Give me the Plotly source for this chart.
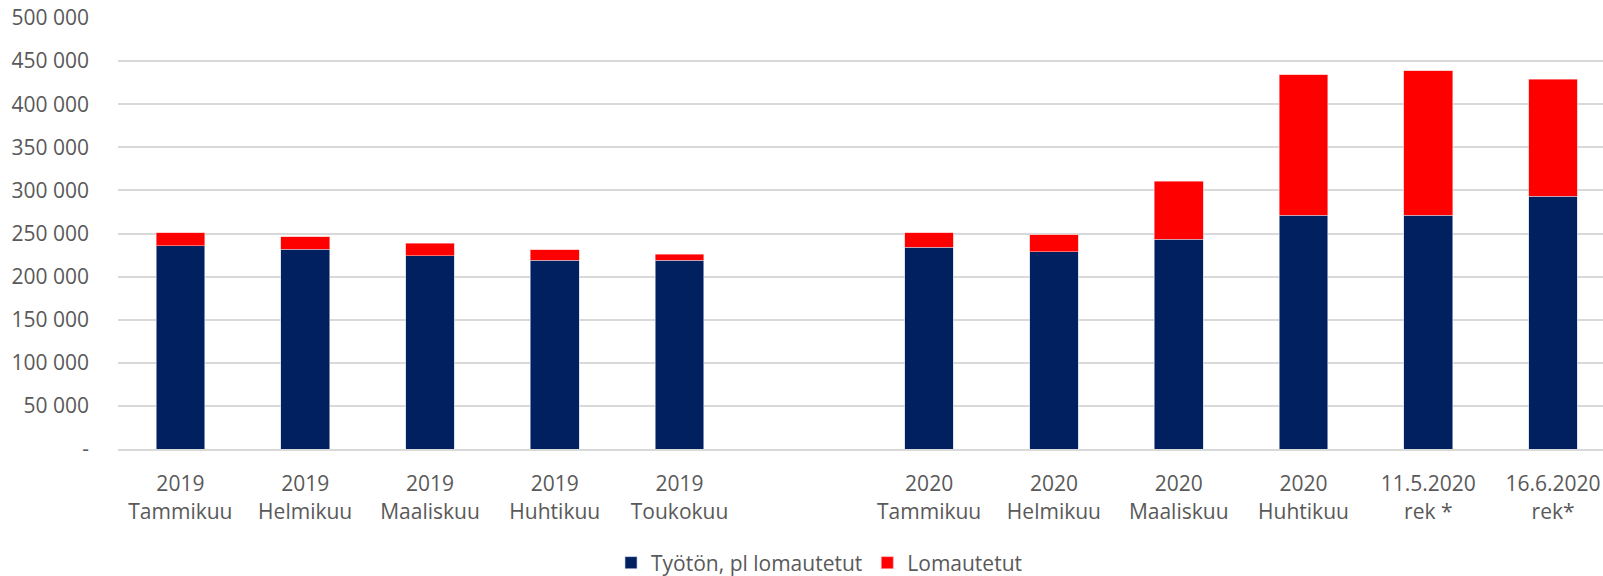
import plotly.graph_objects as go

categories = ["2019<br>Tammikuu", "2019<br>Helmikuu", "2019<br>Maaliskuu", "2019<br>Huhtikuu",
              "2019<br>Toukokuu", " ", "2020<br>Tammikuu", "2020<br>Helmikuu",
              "2020<br>Maaliskuu", "2020<br>Huhtikuu", "11.5.2020<br>rek *", "16.6.2020<br>rek*"]
tyoton = [236000, 231500, 224000, 219000, 219000, None, 234000, 229000, 243500, 271000, 271000, 293000]
lomautetut = [15000, 14500, 14500, 12000, 7000, None, 17000, 19500, 67000, 163000, 168000, 136000]

ytick_vals = [0, 50000, 100000, 150000, 200000, 250000, 300000, 350000, 400000, 450000, 500000]
ytick_text = ["-", "50 000", "100 000", "150 000", "200 000", "250 000", "300 000",
              "350 000", "400 000", "450 000", "500 000"]

FONT = "Open Sans, Noto Sans, sans-serif"
GREY = "#595959"

fig = go.Figure()
fig.add_trace(go.Bar(x=categories, y=tyoton, name="Työtön, pl lomautetut",
                     marker=dict(color="#002060", line=dict(color="#c8d0e6", width=0.6)),
                     width=0.39))
fig.add_trace(go.Bar(x=categories, y=lomautetut, name="Lomautetut",
                     marker=dict(color="#FF0000", line=dict(color="#ffb0b0", width=0.6)),
                     width=0.39))

fig.update_layout(
    barmode="stack",
    width=1603, height=576,
    margin=dict(l=118, r=0, t=18, b=127, autoexpand=False),
    plot_bgcolor="white", paper_bgcolor="white",
    font=dict(family=FONT, size=21, color=GREY),
    showlegend=True,
    legend=dict(orientation="h", x=0.332, xanchor="left", y=-0.2645, yanchor="middle",
                font=dict(family=FONT, size=21, color=GREY), traceorder="normal"),
    xaxis=dict(type="category", range=[-0.5, 11.4], showgrid=False, showline=True,
               linecolor="#d9d9d9", linewidth=2, ticks="", tickfont=dict(size=21, color=GREY),
               ticklabelstandoff=15, automargin=False, ticklabeloverflow="allow"),
    yaxis=dict(range=[0, 500000], tickvals=ytick_vals, ticktext=ytick_text,
               showgrid=True, gridcolor="#d9d9d9", gridwidth=1.5, zeroline=False,
               tickfont=dict(size=21, color=GREY), ticks="", ticklabelstandoff=28,
               automargin=False, ticklabeloverflow="allow"),
)

fig.write_html("out.html", config={"displayModeBar": False},
               post_script="document.body.style.margin='0';document.body.style.overflow='hidden';")
